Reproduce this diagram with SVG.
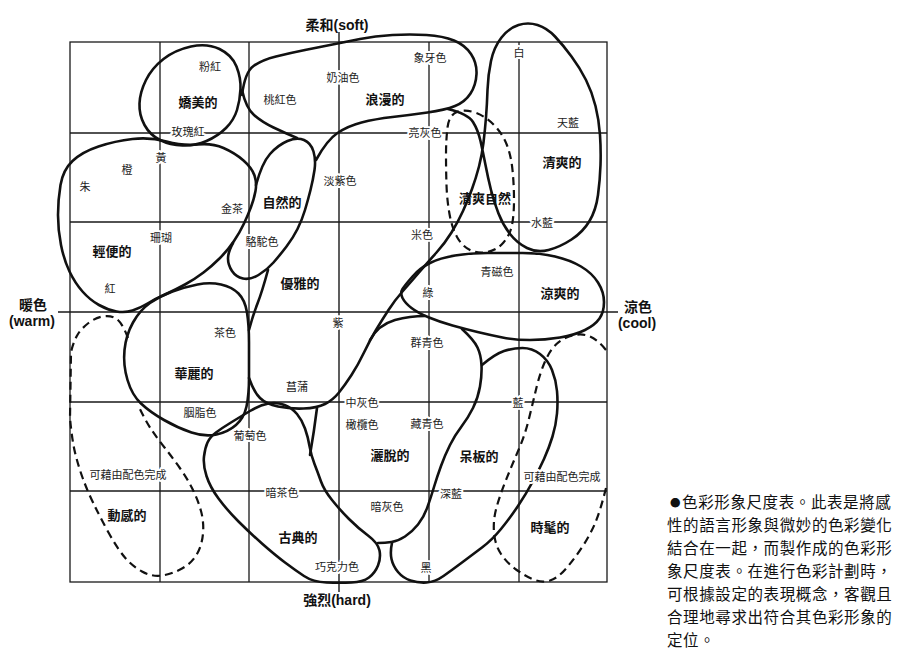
<svg xmlns="http://www.w3.org/2000/svg" width="920" height="662" viewBox="0 0 920 662">
<style>
.g{stroke:#1a1a1a;stroke-width:1.3;fill:none}
.ax{stroke:#1a1a1a;stroke-width:1.4;fill:none}
.b{stroke:#111;stroke-width:2.6;fill:none;stroke-linecap:round;stroke-linejoin:round}
.d{stroke:#111;stroke-width:2.2;fill:none;stroke-dasharray:8 5}
.c{font-family:"Noto Sans CJK TC","Noto Sans CJK SC",sans-serif;font-size:11px;fill:#222;text-anchor:middle;stroke:#fff;stroke-width:4px;paint-order:stroke;stroke-linejoin:round}
.n{font-family:"Noto Sans CJK TC","Noto Sans CJK SC",sans-serif;font-size:13px;font-weight:bold;fill:#111;text-anchor:middle}
.a{font-family:"Liberation Sans","Noto Sans CJK TC",sans-serif;font-size:14px;font-weight:bold;fill:#111;text-anchor:middle}
.p{font-family:"Noto Sans CJK TC","Noto Sans CJK SC",sans-serif;font-size:15.5px;fill:#111;letter-spacing:0.6px}
</style>
<rect width="920" height="662" fill="#fff"/>
<g id="grid" class="g">
<rect x="70" y="42" width="537" height="540"/>
<path d="M160,42V582M249,42V582M429,42V582M519,42V582M70,133H607M70,222H607M70,402H607M70,491H607"/>
</g>
<g id="axes" class="ax">
<path d="M339,32V592M58,312H618"/>
</g>
<g id="connectors">
<path id="edge-yuya-right" class="b" d="M249,378 Q254,392 260,398 Q266,404 278,406.5 Q290,409 303.5,408.5 Q317,408 325,404 Q333,400 339,392.5 Q345,385 351.5,375 Q358,365 364,352.5 Q370,340 376,330 Q382,320 388.5,310 Q395,300 402.5,291.5 Q410,283 419,272.5 Q428,262 436.5,252.5 Q445,243 451.5,232.5 Q458,222 463,211 Q468,200 472,189 Q476,178 479,166.5 Q482,155 483.5,142.5 Q485,130 486,117.5 Q487,105 487.5,90 Q488,75 491,61 Q494,47 501.5,37.5 Q509,28 518.5,25 Q528,22 537.5,25 Q547,28 555,36.5 Q563,45 571.5,56.5 Q580,68 586,80 Q592,92 595.5,106 Q599,120 600,135 Q601,150 600.5,165 Q600,180 598,195 Q596,210 589.5,221 Q583,232 571.5,239.5 Q560,247 548.5,250 Q537,253 527,248 Q517,243 510,234 Q503,225 498.5,213.5 Q494,202 491,190 Q488,178 485.5,165 Q483,152 480.5,141 Q478,130 473,122 Q468,114 448,109"/>
<path id="edge-ziran-yuya" class="b" d="M268,270 Q262,292 257.5,303.5 Q253,315 249,330"/>
<path id="edge-sasha-left" class="b" d="M317,408 Q314,432 310,455"/>
<path id="edge-qunqing" class="b" d="M370,340 Q378,325 395,320 Q410,316 425,316"/>
<path id="edge-sasha-right" class="b" d="M462,329 Q474,340 477.5,347.5 Q481,355 481.5,365 Q482,375 480,386.5 Q478,398 473,408 Q468,418 461.5,426.5 Q455,435 450,445 Q445,455 441,466 Q437,477 434,487 Q431,497 427.5,507 Q424,517 418,524.5 Q412,532 405,536.5 Q398,541 391.5,542 Q385,543 378,543"/>
</g>
<g id="jiaomei">
<path class="b" d="M191,46.5 Q207,43 219.5,49 Q232,55 236.5,66.5 Q241,78 240.5,89 Q240,100 237,110 Q234,120 226,128 Q218,136 206.5,141 Q195,146 182.5,145.5 Q170,145 160,140 Q150,135 144.5,125 Q139,115 139.5,103.5 Q140,92 146,80 Q152,68 163.5,59 Q175,50 191,46.5 Z"/>
<text class="n" x="198" y="106.5">嬌美的</text>
</g>
<g id="langman">
<path class="b" d="M242,95 Q245,72 253.5,66 Q262,60 276,56.5 Q290,53 305,50 Q320,47 332.5,44.5 Q345,42 360,39 Q375,36 392.5,35 Q410,34 426.5,35 Q443,36 454,40.5 Q465,45 471,54 Q477,63 476.5,74 Q476,85 470.5,93.5 Q465,102 455,106 Q445,110 427.5,112.5 Q410,115 392.5,117 Q375,119 361.5,122.5 Q348,126 337.5,133 Q327,140 316,160"/>
<path class="b" d="M242,90 Q246,108 254,115 Q262,122 273.5,127.5 Q285,133 297,138"/>
<text class="n" x="385" y="103.5">浪漫的</text>
</g>
<g id="qingshuang">
<text class="n" x="562" y="166.5">清爽的</text>
</g>
<g id="qingshuang-ziran">
<path class="d" d="M447.5,127.5 Q449,115 457,112 Q465,109 475,112.5 Q485,116 493.5,124.5 Q502,133 506.5,144 Q511,155 512.5,170 Q514,185 514,200 Q514,215 512,225 Q510,235 503.5,242.5 Q497,250 487.5,252 Q478,254 470,250 Q462,246 457,237 Q452,228 449.5,214 Q447,200 446.5,185 Q446,170 446,155 Q446,140 447.5,127.5 Z"/>
<text class="n" x="485" y="202.5">清爽自然</text>
</g>
<g id="ziran">
<path class="b" d="M256,185 Q262,163 270,154 Q278,145 287.5,141 Q297,137 304,140 Q311,143 313.5,151.5 Q316,160 314.5,170 Q313,180 310.5,190 Q308,200 305,210 Q302,220 297.5,229 Q293,238 286.5,246.5 Q280,255 273.5,262.5 Q267,270 258.5,275 Q250,280 243,278.5 Q236,277 232,271 Q228,265 228,258.5 Q228,252 233,243"/>
<text class="n" x="282" y="206.5">自然的</text>
</g>
<g id="qingbian">
<path class="b" d="M58,215 Q58,200 60.5,185 Q63,170 72.5,161 Q82,152 98.5,146.5 Q115,141 132.5,139 Q150,137 166.5,141.5 Q183,146 197.5,144.5 Q212,143 223.5,148 Q235,153 243.5,160.5 Q252,168 254.5,175.5 Q257,183 255.5,191 Q254,199 251,207 Q248,215 244,223.5 Q240,232 234,241 Q228,250 220,258 Q212,266 203.5,272.5 Q195,279 185,284.5 Q175,290 165,294.5 Q155,299 147.5,303.5 Q140,308 132.5,310.5 Q125,313 116.5,311.5 Q108,310 99,305 Q90,300 82.5,291.5 Q75,283 69.5,271.5 Q64,260 61,245 Q58,230 58,215 Z"/>
<text class="n" x="112" y="255.5">輕便的</text>
</g>
<g id="youya">
<text class="n" x="300" y="287.5">優雅的</text>
</g>
<g id="liangshuang">
<path class="b" d="M402.5,289 Q405,285 412.5,276.5 Q420,268 430,263 Q440,258 455,255.5 Q470,253 487.5,253 Q505,253 522.5,253 Q540,253 555,256.5 Q570,260 581,266.5 Q592,273 598,282.5 Q604,292 604,302 Q604,312 599.5,318.5 Q595,325 585,330 Q575,335 560,337.5 Q545,340 530,340 Q515,340 502.5,337.5 Q490,335 477.5,332 Q465,329 452.5,325.5 Q440,322 429,317.5 Q418,313 411.5,308 Q405,303 402.5,298 Q400,293 402.5,289 Z"/>
<text class="n" x="560" y="297.5">涼爽的</text>
</g>
<g id="huali">
<path class="b" d="M150,303 Q160,296 172.5,291.5 Q185,287 197.5,284.5 Q210,282 221,284.5 Q232,287 238.5,293.5 Q245,300 247,312.5 Q249,325 249,342.5 Q249,360 249,377.5 Q249,395 246.5,406.5 Q244,418 236,425 Q228,432 216.5,434.5 Q205,437 191.5,432.5 Q178,428 164,420 Q150,412 141,403.5 Q132,395 127.5,380 Q123,365 124.5,350 Q126,335 133,322.5 Q140,310 150,303 Z"/>
<text class="n" x="194" y="377.5">華麗的</text>
</g>
<g id="sasha">
<text class="n" x="390" y="459.5">灑脫的</text>
</g>
<g id="daiban">
<path class="b" d="M482,365 Q495,354 504,351 Q513,348 522.5,348 Q532,348 540,354 Q548,360 552,370 Q556,380 557,391 Q558,402 557,413.5 Q556,425 552.5,436.5 Q549,448 544,459 Q539,470 532.5,482 Q526,494 518,506 Q510,518 501,529 Q492,540 482,547.5 Q472,555 462,562.5 Q452,570 443.5,576 Q435,582 426.5,582.5 Q418,583 410.5,580.5 Q403,578 398,572 Q393,566 391.5,559 Q390,552 392,543"/>
<text class="n" x="479" y="460.5">呆板的</text>
</g>
<g id="donggan">
<path class="d" d="M128,338 Q122,322 116,318.5 Q110,315 102.5,316.5 Q95,318 88.5,323 Q82,328 78,334 Q74,340 71,352 L70,418 Q72,440 75,452.5 Q78,465 82.5,477.5 Q87,490 93.5,503.5 Q100,517 108.5,532.5 Q117,548 124.5,557 Q132,566 142,571.5 Q152,577 162,575.5 Q172,574 182,568.5 Q192,563 197,554 Q202,545 203,533.5 Q204,522 201,511 Q198,500 192.5,489 Q187,478 179.5,467.5 Q172,457 164.5,447.5 Q157,438 151,429 Q145,420 138,405"/>
<text class="n" x="127" y="519.5">動感的</text>
</g>
<g id="gudian">
<path class="b" d="M207.5,442.5 Q210,437 216,432.5 Q222,428 231,422.5 Q240,417 250,411 Q260,405 268.5,403.5 Q277,402 284.5,405 Q292,408 297,414 Q302,420 305,428.5 Q308,437 309.5,446 Q311,455 314.5,464 Q318,473 321,481.5 Q324,490 332,500 Q340,510 349,519 Q358,528 368,535.5 Q378,543 379.5,550.5 Q381,558 378,565.5 Q375,573 369,577.5 Q363,582 351.5,582.5 Q340,583 326.5,582.5 Q313,582 304,576 Q295,570 285,562.5 Q275,555 262.5,544 Q250,533 238.5,521.5 Q227,510 218.5,498.5 Q210,487 206.5,476 Q203,465 204,456.5 Q205,448 207.5,442.5 Z"/>
<text class="n" x="298" y="541.5">古典的</text>
</g>
<g id="shimao">
<path class="d" d="M606,488 Q600,512 595,523.5 Q590,535 582.5,546.5 Q575,558 566.5,568 Q558,578 550,580.5 Q542,583 533.5,579.5 Q525,576 516,569.5 Q507,563 501,554 Q495,545 494,532.5 Q493,520 496.5,507.5 Q500,495 506,480 Q512,465 518.5,450 Q525,435 529,418.5 Q533,402 536.5,387.5 Q540,373 545,361.5 Q550,350 556.5,344 Q563,338 572.5,335.5 Q582,333 590,336.5 Q598,340 606,350"/>
<text class="n" x="550" y="531.5">時髦的</text>
</g>
<g id="colour-labels">
<text class="c" x="210" y="71">粉紅</text>
<text class="c" x="188" y="136">玫瑰紅</text>
<text class="c" x="280" y="104">桃紅色</text>
<text class="c" x="343" y="82">奶油色</text>
<text class="c" x="430" y="62">象牙色</text>
<text class="c" x="519" y="57">白</text>
<text class="c" x="568" y="127">天藍</text>
<text class="c" x="425" y="137">亮灰色</text>
<text class="c" x="340" y="185">淡紫色</text>
<text class="c" x="161" y="162">黃</text>
<text class="c" x="127" y="174">橙</text>
<text class="c" x="85" y="191">朱</text>
<text class="c" x="232" y="213">金茶</text>
<text class="c" x="161" y="242">珊瑚</text>
<text class="c" x="262" y="246">駱駝色</text>
<text class="c" x="422" y="239">米色</text>
<text class="c" x="542" y="227">水藍</text>
<text class="c" x="110" y="293">紅</text>
<text class="c" x="497" y="276">青磁色</text>
<text class="c" x="428" y="297">綠</text>
<text class="c" x="338" y="327">紫</text>
<text class="c" x="225" y="337">茶色</text>
<text class="c" x="427" y="347">群青色</text>
<text class="c" x="297" y="391">菖蒲</text>
<text class="c" x="200" y="417">胭脂色</text>
<text class="c" x="362" y="407">中灰色</text>
<text class="c" x="518" y="407">藍</text>
<text class="c" x="250" y="440">葡萄色</text>
<text class="c" x="362" y="429">橄欖色</text>
<text class="c" x="427" y="428">藏青色</text>
<text class="c" x="128" y="479">可藉由配色完成</text>
<text class="c" x="562" y="481">可藉由配色完成</text>
<text class="c" x="282" y="497">暗茶色</text>
<text class="c" x="451" y="498">深藍</text>
<text class="c" x="387" y="511">暗灰色</text>
<text class="c" x="337" y="571">巧克力色</text>
<text class="c" x="426" y="572">黑</text>
</g>
<g id="axis-labels">
<text class="a" x="337" y="30">柔和(soft)</text>
<text class="a" x="337" y="605">強烈(hard)</text>
<text class="a" x="33" y="310">暖色</text>
<text class="a" x="32" y="326">(warm)</text>
<text class="a" x="638" y="312">涼色</text>
<text class="a" x="637" y="328">(cool)</text>
</g>
<g id="caption">
<text class="p" x="670" y="508"><tspan font-size="10.5px" dy="-1">●</tspan><tspan dy="1" dx="1">色彩形象尺度表。此表是將感</tspan></text>
<text class="p" x="667" y="531">性的語言形象與微妙的色彩變化</text>
<text class="p" x="667" y="554">結合在一起，而製作成的色彩形</text>
<text class="p" x="667" y="577">象尺度表。在進行色彩計劃時，</text>
<text class="p" x="667" y="600">可根據設定的表現概念，客觀且</text>
<text class="p" x="667" y="623">合理地尋求出符合其色彩形象的</text>
<text class="p" x="667" y="646">定位。</text>
</g>
</svg>
